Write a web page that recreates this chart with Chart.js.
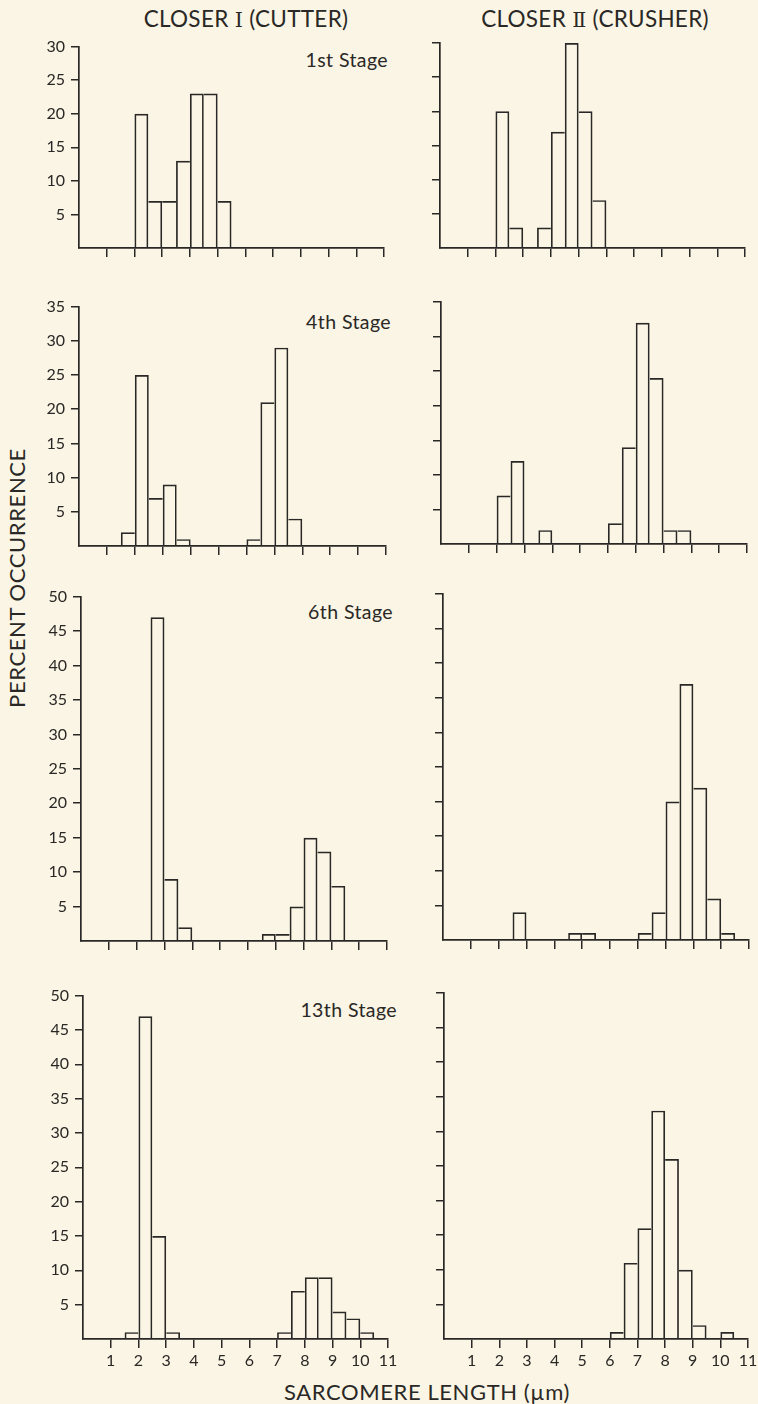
<!DOCTYPE html>
<html>
<head>
<meta charset="utf-8">
<script src="https://cdn.jsdelivr.net/npm/chart.js@4.4.1/dist/chart.umd.min.js"></script>
<style>
  html, body { margin: 0; padding: 0; background: #faf5e4; }
  body { width: 758px; height: 1404px; position: relative; overflow: hidden;
         font-family: Lato, "Open Sans", sans-serif; color: #2a2826; }
  canvas { position: absolute; }
  .t { position: absolute; white-space: nowrap; line-height: 1; }
  .c { transform: translate(-50%, -50%); }
  .r { transform: translateY(-50%); }
  .rn { font-family: "DejaVu Serif", "Liberation Serif", serif; font-size: 0.92em; }
  .title { font-size: 22.5px; letter-spacing: 0.3px; }
  .stage { font-size: 19.5px; letter-spacing: 0.4px; }
  .axl { font-size: 22px; letter-spacing: 0.6px; }
</style>
</head>
<body>
<div class="t c title" style="left:246px; top:19px;">CLOSER <span class="rn">I</span> (CUTTER)</div>
<div class="t c title" style="left:595px; top:19px;">CLOSER <span class="rn">Ⅱ</span> (CRUSHER)</div>
<div class="t c axl" style="left:17px; top:578px; transform: translate(-50%,-50%) rotate(-90deg);">PERCENT OCCURRENCE</div>
<div class="t c axl" style="left:427px; top:1392px;">SARCOMERE LENGTH (µm)</div>

<div class="t r stage" style="right:370px; top:60px;">1st Stage</div>
<div class="t r stage" style="right:367px; top:322px;">4th Stage</div>
<div class="t r stage" style="right:365px; top:612px;">6th Stage</div>
<div class="t r stage" style="right:361px; top:1010px;">13th Stage</div>

<canvas id="c1"></canvas><canvas id="c2"></canvas>
<canvas id="c3"></canvas><canvas id="c4"></canvas>
<canvas id="c5"></canvas><canvas id="c6"></canvas>
<canvas id="c7"></canvas><canvas id="c8"></canvas>

<script>
// ---- Data (percent occurrence per 0.5 µm sarcomere-length bin) ----
const binLabels = ['0-0.5','0.5-1','1-1.5','1.5-2','2-2.5','2.5-3','3-3.5','3.5-4','4-4.5','4.5-5','5-5.5',
                   '5.5-6','6-6.5','6.5-7','7-7.5','7.5-8','8-8.5','8.5-9','9-9.5','9.5-10','10-10.5','10.5-11'];

const cutterStage1  = [0,0,0,0,20,7,7,13,23,23,7,0,0,0,0,0,0,0,0,0,0,0];
const crusherStage1 = [0,0,0,0,20,3,0,3,17,30,20,7,0,0,0,0,0,0,0,0,0,0];
const cutterStage4  = [0,0,0,2,25,7,9,1,0,0,0,0,1,21,29,4,0,0,0,0,0,0];
const crusherStage4 = [0,0,0,0,7,12,0,2,0,0,0,0,3,14,32,24,2,2,0,0,0,0];
const cutterStage6  = [0,0,0,0,0,47,9,2,0,0,0,0,0,1,1,5,15,13,8,0,0,0];
const crusherStage6 = [0,0,0,0,0,4,0,0,0,1,1,0,0,0,1,4,20,37,22,6,1,0];
const cutterStage13 = [0,0,0,1,47,15,1,0,0,0,0,0,0,0,1,7,9,9,4,3,1,0];
const crusherStage13= [0,0,0,0,0,0,0,0,0,0,0,0,1,11,16,33,26,10,2,0,1,0];

const yMaxByRow = [30, 35, 50, 50];
const yStep = 5;
const xMin = 0, xMax = 11, xStep = 1;

// ---- Style / layout ----
const INK = '#2a2826';
const LINE = 1.7;
const FONT = 'Lato, "Open Sans", sans-serif';
const W_Y = 60, PAD_T = 12, PAD_R = 16, H_X = 40;

// chart areas in page pixels: left, right, top, bottom
const panels = [
  {id:'c1', data: cutterStage1,  row:0, left:true,  area:[79, 384, 43, 248]},
  {id:'c2', data: crusherStage1, row:0, left:false, area:[440, 745, 43, 248]},
  {id:'c3', data: cutterStage4,  row:1, left:true,  area:[79, 386, 303, 546]},
  {id:'c4', data: crusherStage4, row:1, left:false, area:[441, 747, 302, 544]},
  {id:'c5', data: cutterStage6,  row:2, left:true,  area:[81, 387, 593, 941]},
  {id:'c6', data: crusherStage6, row:2, left:false, area:[443, 749, 594, 940]},
  {id:'c7', data: cutterStage13, row:3, left:true,  area:[83, 388, 992, 1339]},
  {id:'c8', data: crusherStage13,row:3, left:false, area:[444, 748, 993, 1339]},
];

function edgeWidths(ctx) {
  const i = ctx.dataIndex;
  if (i === undefined) return LINE;
  const d = ctx.dataset.data;
  const cur = d[i] || 0, prev = d[i - 1] || 0, next = d[i + 1] || 0;
  return { top: LINE, bottom: 0, left: prev < cur ? LINE : 0, right: next <= cur ? LINE : 0 };
}
const hideZero = c => (c.tick && c.tick.value === 0) ? 'rgba(0,0,0,0)' : INK;

panels.forEach(p => {
  const [l, r, t, b] = p.area;
  const cv = document.getElementById(p.id);
  const w = (r - l) + W_Y + PAD_R;
  const h = (b - t) + PAD_T + H_X;
  cv.width = w; cv.height = h;
  cv.style.width = w + 'px'; cv.style.height = h + 'px';
  cv.style.left = (l - W_Y) + 'px';
  cv.style.top = (t - PAD_T) + 'px';
  const bottomRow = p.row === 3;

  new Chart(cv, {
    type: 'bar',
    data: {
      labels: binLabels,
      datasets: [{
        data: p.data.map(v => v === 0 ? null : v),
        backgroundColor: 'rgba(0,0,0,0)',
        borderColor: INK,
        borderWidth: edgeWidths,
        borderSkipped: 'start',
        inflateAmount: 0,
        barPercentage: 1,
        categoryPercentage: 1
      }]
    },
    options: {
      responsive: false,
      animation: false,
      devicePixelRatio: 1,
      events: [],
      layout: { padding: { top: PAD_T, right: PAD_R, left: 0, bottom: 0 } },
      plugins: { legend: { display: false }, tooltip: { enabled: false }, title: { display: false } },
      scales: {
        x: { type: 'category', display: false, offset: true },
        x2: {
          type: 'linear', position: 'bottom', min: xMin, max: xMax, offset: false,
          afterFit: s => { s.height = H_X; },
          ticks: { stepSize: xStep, display: bottomRow, color: INK, padding: 3,
                   font: { family: FONT, size: 16 }, maxRotation: 0, autoSkip: false,
                   callback: v => v === 0 ? '' : v },
          grid: { offset: false, drawOnChartArea: false, drawTicks: true, tickLength: 9, lineWidth: 1.5,
                  tickWidth: 1.5, tickColor: hideZero, color: INK },
          border: { display: true, color: INK, width: LINE }
        },
        y: {
          type: 'linear', min: 0, max: yMaxByRow[p.row],
          afterFit: s => { s.width = W_Y; },
          ticks: { stepSize: yStep, display: p.left, color: INK, padding: 6,
                   font: { family: FONT, size: 16 },
                   callback: v => v === 0 ? '' : v },
          grid: { drawOnChartArea: false, drawTicks: true, tickLength: 8, lineWidth: 1.5,
                  tickWidth: 1.5, tickColor: hideZero, color: INK },
          border: { display: true, color: INK, width: LINE }
        }
      }
    }
  });
});
</script>
</body>
</html>
